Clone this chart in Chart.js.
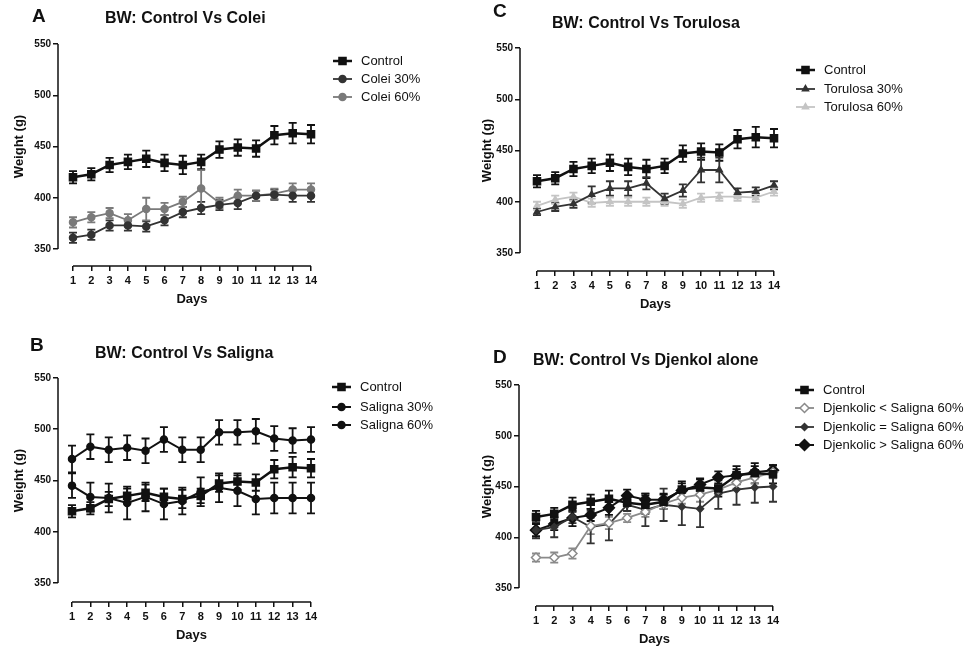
<!DOCTYPE html>
<html>
<head>
<meta charset="utf-8">
<script src="https://cdn.jsdelivr.net/npm/chart.js@4.4.1/dist/chart.umd.min.js"></script>
<style>
  html, body { margin: 0; padding: 0; background: #fff; }
  #wrap { position: relative; width: 971px; height: 646px; }
  canvas { position: absolute; }
</style>
</head>
<body>
<div id="wrap">
  <canvas id="chartA" width="480" height="320" style="left:0;top:0"></canvas>
  <canvas id="chartC" width="491" height="320" style="left:480px;top:0"></canvas>
  <canvas id="chartB" width="480" height="326" style="left:0;top:320px"></canvas>
  <canvas id="chartD" width="491" height="326" style="left:480px;top:320px"></canvas>
</div>
<script>
// data
var days = [1, 2, 3, 4, 5, 6, 7, 8, 9, 10, 11, 12, 13, 14];
var yTicks = [350, 400, 450, 500, 550];

var control    = [420, 423, 432, 435, 438, 434, 432, 435, 447, 449, 448, 461, 463, 462];
var controlErr = [6, 6, 7, 7, 8, 8, 9, 7, 8, 8, 8, 9, 10, 9];

var colei30    = [361, 364, 373, 373, 372, 378, 386, 390, 393, 395, 402, 403, 402, 402];
var colei30Err = [5, 5, 5, 5, 5, 5, 5, 6, 5, 6, 5, 5, 6, 6];
var colei60    = [376, 381, 385, 378, 389, 389, 396, 409, 395, 402, 402, 404, 408, 408];
var colei60Err = [5, 5, 5, 6, 11, 6, 5, 18, 5, 6, 5, 5, 6, 6];

var torulosa30    = [390, 395, 398, 407, 413, 413, 418, 403, 411, 431, 431, 409, 410, 416];
var torulosa30Err = [3, 4, 4, 8, 7, 7, 6, 5, 6, 12, 12, 4, 4, 4];
var torulosa60    = [396, 402, 405, 399, 400, 400, 400, 400, 398, 404, 405, 405, 404, 410];
var torulosa60Err = [4, 4, 4, 4, 4, 4, 4, 4, 4, 4, 4, 4, 4, 4];

var saligna30    = [445, 434, 433, 428, 434, 427, 430, 439, 443, 440, 432, 433, 433, 433];
var saligna30Err = [12, 14, 14, 16, 14, 15, 13, 14, 14, 15, 15, 15, 15, 15];
var saligna60    = [471, 483, 480, 482, 479, 490, 480, 480, 497, 497, 498, 491, 489, 490];
var saligna60Err = [13, 12, 12, 12, 12, 12, 12, 12, 12, 12, 12, 12, 12, 12];

var djLess     = [380, 380, 384, 411, 414, 419, 425, 433, 439, 442, 447, 454, 459, 464];
var djLessErr  = [4, 5, 5, 8, 6, 4, 5, 5, 6, 7, 5, 6, 6, 6];
var djEqual    = [407, 410, 420, 410, 413, 432, 427, 432, 430, 428, 443, 447, 449, 450];
var djEqualErr = [8, 10, 6, 16, 16, 6, 16, 16, 18, 18, 15, 15, 15, 15];
var djMore     = [407, 413, 419, 422, 429, 441, 437, 437, 446, 452, 459, 461, 464, 466];
var djMoreErr  = [6, 6, 8, 6, 7, 6, 6, 6, 7, 6, 6, 6, 6, 5];

var FONT = "Arial, 'Liberation Sans', sans-serif";
var INK = '#111';

function series(label, values, err, color, style, radius, width, fillColor) {
  return {
    label: label,
    data: values,
    err: err,
    borderColor: color,
    backgroundColor: fillColor || color,
    pointBackgroundColor: fillColor || color,
    pointBorderColor: color,
    pointStyle: style,
    pointRadius: radius,
    pointHoverRadius: radius,
    pointBorderWidth: 1.5,
    borderWidth: width,
    tension: 0,
    fill: false,
    clip: false
  };
}

// error bars, axis lines, texts and legend
var prismPlugin = {
  id: 'prism',
  beforeDatasetsDraw: function(chart) {
    var ctx = chart.ctx, xs = chart.scales.x, ys = chart.scales.y;
    chart.data.datasets.forEach(function(ds) {
      ctx.save();
      ctx.strokeStyle = ds.borderColor;
      ctx.lineWidth = 1.8;
      ds.data.forEach(function(v, i) {
        var x = xs.getPixelForValue(days[i]);
        var y1 = ys.getPixelForValue(v + ds.err[i]);
        var y2 = ys.getPixelForValue(v - ds.err[i]);
        ctx.beginPath();
        ctx.moveTo(x, y1); ctx.lineTo(x, y2);
        ctx.moveTo(x - 4, y1); ctx.lineTo(x + 4, y1);
        ctx.moveTo(x - 4, y2); ctx.lineTo(x + 4, y2);
        ctx.stroke();
      });
      ctx.restore();
    });
  },
  afterDraw: function(chart) {
    var ctx = chart.ctx, xs = chart.scales.x, ys = chart.scales.y;
    var p = chart.options.plugins.prism;
    var area = chart.chartArea;
    ctx.save();
    ctx.strokeStyle = INK;
    ctx.lineWidth = 1.5;
    ctx.beginPath();
    ctx.moveTo(area.left, ys.getPixelForValue(yTicks[0]));
    ctx.lineTo(area.left, ys.getPixelForValue(yTicks[yTicks.length - 1]));
    ctx.moveTo(xs.getPixelForValue(days[0]), area.bottom);
    ctx.lineTo(xs.getPixelForValue(days[days.length - 1]), area.bottom);
    ctx.stroke();

    ctx.fillStyle = INK;
    ctx.textBaseline = 'middle';
    ctx.textAlign = 'left';
    ctx.font = 'bold 19px ' + FONT;
    ctx.fillText(p.letter, p.letterX, p.letterY);
    ctx.font = 'bold 16px ' + FONT;
    ctx.fillText(p.title, p.titleX, p.titleY);

    ctx.font = 'bold 13px ' + FONT;
    ctx.textAlign = 'center';
    var midX = (xs.getPixelForValue(days[0]) + xs.getPixelForValue(days[days.length - 1])) / 2;
    ctx.fillText('Days', midX, area.bottom + 33);
    ctx.save();
    ctx.translate(p.yTitleX, (ys.getPixelForValue(350) + ys.getPixelForValue(550)) / 2);
    ctx.rotate(-Math.PI / 2);
    ctx.fillText('Weight (g)', 0, 0);
    ctx.restore();

    // legend
    ctx.textAlign = 'left';
    ctx.font = '13px ' + FONT;
    chart.data.datasets.forEach(function(ds, i) {
      var y = p.legendY[i];
      ctx.strokeStyle = ds.borderColor;
      ctx.lineWidth = ds.borderWidth;
      ctx.beginPath();
      ctx.moveTo(p.legendX, y); ctx.lineTo(p.legendX + 19, y);
      ctx.stroke();
      ctx.fillStyle = ds.pointBackgroundColor;
      ctx.strokeStyle = ds.pointBorderColor;
      ctx.lineWidth = ds.pointBorderWidth;
      Chart.helpers.drawPoint(ctx, {pointStyle: ds.pointStyle, rotation: 0, radius: ds.pointRadius, borderWidth: ds.pointBorderWidth}, p.legendX + 9.5, y);
      ctx.fillStyle = INK;
      ctx.fillText(ds.label, p.legendX + 28, y);
    });
    ctx.restore();
  }
};

function makePanel(id, W, H, g, text, datasets) {
  var xMin = 1 - (g.day1 - g.left) / (g.right - g.day1) * 13;
  var yMin = 350 - (g.bottom - g.y350) / (g.y350 - g.top) * 200;
  var ctx = document.getElementById(id).getContext('2d');
  return new Chart(ctx, {
    type: 'line',
    data: { labels: days, datasets: datasets },
    plugins: [prismPlugin],
    options: {
      responsive: false,
      animation: false,
      layout: { padding: { left: g.left - 35, right: W - g.right, top: g.top, bottom: H - g.bottom - 40 } },
      plugins: {
        legend: { display: false },
        tooltip: { enabled: false },
        prism: text
      },
      scales: {
        x: {
          type: 'linear', min: xMin, max: 14,
          afterBuildTicks: function(s) { s.ticks = days.map(function(d) { return {value: d}; }); },
          afterFit: function(s) { s.height = 40; },
          ticks: { autoSkip: false, maxRotation: 0, padding: 3, color: INK, font: { family: FONT, size: 11, weight: 'bold' } },
          grid: { drawOnChartArea: false, drawTicks: true, tickLength: 5, color: INK, lineWidth: 1.5 },
          border: { display: false }
        },
        y: {
          min: yMin, max: 550,
          afterBuildTicks: function(s) { s.ticks = yTicks.map(function(v) { return {value: v}; }); },
          afterFit: function(s) { s.width = 35; },
          ticks: { padding: 2, color: INK, font: { family: FONT, size: 10, weight: 'bold' } },
          grid: { drawOnChartArea: false, drawTicks: true, tickLength: 5, color: INK, lineWidth: 1.5 },
          border: { display: false }
        }
      }
    }
  });
}

// A
makePanel('chartA', 480, 320,
  { left: 58, right: 311, top: 44, y350: 249, bottom: 266, day1: 73 },
  { letter: 'A', letterX: 32, letterY: 17, title: 'BW: Control Vs Colei', titleX: 105, titleY: 19,
    yTitleX: 19, legendX: 333, legendY: [61, 79, 97] },
  [
    series('Control', control, controlErr, '#111', 'rect', 5, 2.5),
    series('Colei 30%', colei30, colei30Err, '#333', 'circle', 3.5, 1.8),
    series('Colei 60%', colei60, colei60Err, '#7a7a7a', 'circle', 3.5, 1.8)
  ]);

// C
makePanel('chartC', 491, 320,
  { left: 40, right: 294, top: 48, y350: 253, bottom: 271, day1: 57 },
  { letter: 'C', letterX: 13, letterY: 12, title: 'BW: Control Vs Torulosa', titleX: 72, titleY: 24,
    yTitleX: 7, legendX: 316, legendY: [70, 89, 107] },
  [
    series('Control', control, controlErr, '#111', 'rect', 5, 2.5),
    series('Torulosa 30%', torulosa30, torulosa30Err, '#333', 'triangle', 3.5, 1.8),
    series('Torulosa 60%', torulosa60, torulosa60Err, '#c4c4c4', 'triangle', 3.5, 1.8)
  ]);

// B
makePanel('chartB', 480, 326,
  { left: 58, right: 311, top: 58, y350: 263, bottom: 282, day1: 72 },
  { letter: 'B', letterX: 30, letterY: 26, title: 'BW: Control Vs Saligna', titleX: 95, titleY: 34,
    yTitleX: 19, legendX: 332, legendY: [67, 87, 105] },
  [
    series('Control', control, controlErr, '#111', 'rect', 5, 2.5),
    series('Saligna 30%', saligna30, saligna30Err, '#111', 'circle', 3.5, 2),
    series('Saligna 60%', saligna60, saligna60Err, '#111', 'circle', 3.5, 2)
  ]);

// D
makePanel('chartD', 491, 326,
  { left: 39, right: 293, top: 65, y350: 268, bottom: 286, day1: 56 },
  { letter: 'D', letterX: 13, letterY: 38, title: 'BW: Control Vs Djenkol alone', titleX: 53, titleY: 41,
    yTitleX: 7, legendX: 315, legendY: [70, 88, 107, 125] },
  [
    series('Control', control, controlErr, '#111', 'rect', 5, 2.5),
    series('Djenkolic < Saligna 60%', djLess, djLessErr, '#8a8a8a', 'rectRot', 4.5, 1.8, '#fff'),
    series('Djenkolic = Saligna 60%', djEqual, djEqualErr, '#333', 'rectRot', 3.5, 1.8),
    series('Djenkolic > Saligna 60%', djMore, djMoreErr, '#111', 'rectRot', 5.5, 2)
  ]);
</script>
</body>
</html>
